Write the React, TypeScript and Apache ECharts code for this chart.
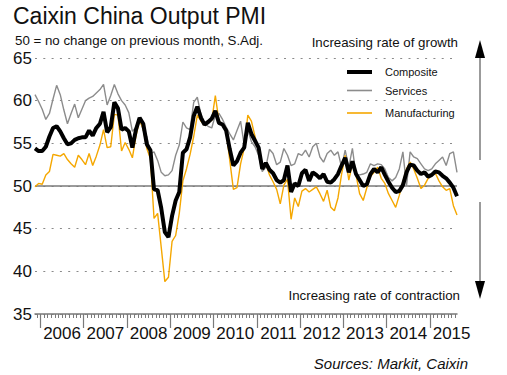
import React, { useEffect, useRef } from "react";
import * as echarts from "echarts";

// Monthly data, Nov 2005 .. Aug 2015
const startMonth = 11; // November 2005
const years = ["2006", "2007", "2008", "2009", "2010", "2011", "2012", "2013", "2014", "2015"];
const yTicks = [35, 40, 45, 50, 55, 60, 65];

const composite = [
  54.4, 54.1,
  54.1, 54.6, 55.8, 56.8, 57.0, 56.4, 55.6, 54.9, 55.0, 55.4, 55.6, 55.7,
  55.7, 56.5, 55.9, 56.8, 57.3, 58.7, 56.3, 56.9, 59.8, 59.1, 56.6, 56.8,
  56.4, 54.5, 56.6, 58.0, 57.3, 54.9, 54.2, 49.6, 49.5, 47.4, 44.6, 44.0,
  46.5, 48.3, 49.3, 53.9, 54.3, 55.7, 58.2, 59.3, 58.0, 57.2, 57.5, 57.9,
  58.8, 57.4, 57.2, 56.5, 54.3, 52.4, 52.9, 53.9, 54.5, 57.4, 56.1, 55.3,
  54.5, 52.0, 52.7, 51.9, 51.5, 50.7, 50.4, 50.7, 52.4, 49.3, 50.3, 50.0,
  51.5, 51.9, 50.6, 51.6, 51.3, 50.9, 51.4, 50.5, 50.4, 50.8, 51.4, 52.4,
  53.3, 51.6, 52.9, 51.4, 50.7, 50.0, 50.2, 51.4, 52.0, 51.6, 52.2, 51.3,
  50.5, 49.8, 49.3, 49.4, 50.1, 51.6, 52.5, 52.4, 51.8, 51.4, 51.6, 51.1,
  51.3, 51.7, 51.6, 51.2, 50.9, 50.4, 49.8, 48.8,
];

const services = [
  60.7, 59.9,
  59.0, 57.8, 58.5, 60.2, 61.8, 60.7, 58.9, 57.3, 58.5, 59.6, 58.0, 59.0,
  60.0, 60.3, 60.5, 60.9, 61.3, 61.9, 59.5, 60.6, 61.9, 60.8, 60.0, 59.5,
  58.6, 56.4, 56.9, 58.0, 56.5, 55.8, 53.8, 54.0, 53.0, 51.6, 51.2, 51.3,
  51.8, 53.6, 54.8, 57.5, 56.8, 56.6, 59.8, 60.4, 58.4, 57.3, 57.0, 56.8,
  58.3, 58.5, 57.8, 56.9, 56.1, 55.4, 56.5, 57.6, 54.8, 56.6, 55.2, 54.6,
  53.6, 51.7, 52.2, 54.3, 53.8, 52.5, 52.8, 54.4, 53.6, 52.4, 52.6, 53.8,
  53.6, 54.2, 53.4, 54.6, 55.0, 53.4, 52.8, 53.8, 54.2, 53.6, 54.0, 52.2,
  54.2, 52.2, 54.4, 51.3, 51.3, 51.4, 51.6, 52.6, 52.4, 52.6, 52.5, 52.0,
  51.0, 50.6, 51.0, 52.0, 54.0, 50.0, 54.0, 53.4, 53.2, 52.6, 52.0, 51.8,
  52.0, 52.6, 53.0, 53.4, 52.4, 53.8, 54.0, 51.6,
];

const manufacturing = [
  49.9, 50.3,
  50.2, 51.3, 51.7, 53.7, 53.6, 53.5, 53.8, 53.1, 52.6, 52.2, 53.6, 53.1,
  52.5, 53.8, 52.4, 53.5, 54.8, 56.6, 54.5, 54.6, 58.4, 58.3, 54.1, 55.1,
  54.3, 53.3, 55.9, 57.7, 56.7, 54.4, 53.2, 46.2, 46.8, 42.8, 38.8, 39.3,
  43.5, 44.2, 46.8, 50.6, 52.0, 53.7, 55.8, 58.3, 57.6, 57.1, 57.4, 57.7,
  60.6, 57.6, 57.2, 56.4, 53.0, 49.6, 49.8, 52.6, 54.4, 58.3, 57.6, 55.8,
  54.0, 52.3, 52.6, 51.3, 50.5, 49.6, 47.9, 50.1, 50.8, 46.1, 48.6, 47.6,
  49.4, 49.7, 49.3, 49.6, 49.9, 49.1, 48.2, 49.5, 47.5, 47.1, 48.6, 51.4,
  53.6, 50.7, 52.6, 51.3, 49.1, 48.3, 49.8, 51.1, 51.6, 52.2, 50.9, 50.3,
  49.1, 48.3, 47.5, 48.9, 50.5, 52.0, 52.8, 52.0, 50.9, 49.7, 50.1, 50.9,
  51.3, 51.5, 50.6, 49.9, 49.5, 49.7, 47.7, 46.6,
];

const FONT = "'Liberation Sans', Arial, Helvetica, sans-serif";

const legendItem = (name: string, centerY: number, thickness: number) => ({
  data: [name],
  icon: "rect",
  left: 347,
  top: centerY - 7,
  padding: 0,
  itemWidth: 25,
  itemHeight: thickness,
  textStyle: {
    fontSize: 11,
    fontFamily: FONT,
    color: "#111",
    padding: [0, 0, 0, 8],
    lineHeight: 14,
  },
});

export default function App() {
  const ref = useRef<HTMLDivElement>(null);

  useEffect(() => {
    if (!ref.current) return;
    const chart = echarts.init(ref.current, null, { renderer: "svg" });
    const n = composite.length;
    const firstJan = (13 - startMonth) % 12; // index of first January
    const yearStart = years.map((_, k) => firstJan + 12 * k - 0.5);
    const yearMid = years.map((_, k) => firstJan + 12 * k + 5.5);
    const monthEdges: number[] = [];
    for (let i = 0; i < n - 1; i++) monthEdges.push(i + 0.5);
    const pairs = (arr: number[]) => arr.map((v, i) => [i, v]);
    const yearOf = (v: number) => {
      const k = Math.round((v - firstJan - 5.5) / 12);
      return years[k] ?? "";
    };

    const option: any = {
      animation: false,
      backgroundColor: "#ffffff",
      grid: { left: 35, right: 50, top: 58, bottom: 61, containLabel: false },
      xAxis: [
        {
          type: "value",
          min: 0,
          max: n - 1,
          axisLine: { show: true, lineStyle: { color: "#7a7a7a", width: 1.5 } },
          axisTick: {
            show: true,
            customValues: yearStart,
            length: 14,
            lineStyle: { color: "#7a7a7a", width: 1.2 },
          },
          axisLabel: {
            show: true,
            customValues: yearMid,
            formatter: (v: number) => yearOf(v),
            fontSize: 17,
            fontFamily: FONT,
            color: "#111",
            margin: 11,
          },
          splitLine: { show: false },
        },
        {
          type: "value",
          min: 0,
          max: n - 1,
          position: "bottom",
          axisLine: { show: false },
          axisTick: {
            show: true,
            customValues: monthEdges,
            length: 4,
            lineStyle: { color: "#7a7a7a", width: 1 },
          },
          axisLabel: { show: false },
          splitLine: { show: false },
        },
      ],
      yAxis: {
        type: "value",
        min: yTicks[0],
        max: yTicks[yTicks.length - 1],
        interval: 5,
        axisLine: { show: false },
        axisTick: { show: false },
        axisLabel: { fontSize: 17, fontFamily: FONT, color: "#111", margin: 3 },
        splitLine: { show: true, lineStyle: { color: "#8a8a8a", width: 1, type: [2, 6.3] } },
      },
      legend: [
        legendItem("Composite", 72, 4),
        legendItem("Services", 90.5, 1.6),
        legendItem("Manufacturing", 113, 1.6),
      ],
      series: [
        {
          name: "Services",
          type: "line",
          data: pairs(services),
          showSymbol: false,
          symbol: "none",
          z: 2,
          lineStyle: { color: "#8c8c8c", width: 1.4 },
          itemStyle: { color: "#8c8c8c" },
          markLine: {
            silent: true,
            symbol: "none",
            label: { show: false },
            lineStyle: { color: "#7a7a7a", width: 1.5, type: "solid" },
            data: [{ yAxis: 50 }],
            z: 1,
          },
        },
        {
          name: "Manufacturing",
          type: "line",
          data: pairs(manufacturing),
          showSymbol: false,
          symbol: "none",
          z: 3,
          lineStyle: { color: "#f5a700", width: 1.4 },
          itemStyle: { color: "#f5a700" },
        },
        {
          name: "Composite",
          type: "line",
          data: pairs(composite),
          showSymbol: false,
          symbol: "none",
          z: 4,
          lineStyle: { color: "#000000", width: 4 },
          itemStyle: { color: "#000000" },
        },
      ],
      graphic: [
        {
          type: "text",
          left: 13,
          top: 4,
          style: { text: "Caixin China Output PMI", font: `23px ${FONT}`, fill: "#111" },
        },
        {
          type: "text",
          left: 15,
          top: 34,
          style: { text: "50 = no change on previous month, S.Adj.", font: `13.3px ${FONT}`, fill: "#111" },
        },
        {
          type: "text",
          right: 49,
          top: 36,
          style: { text: "Increasing rate of growth", font: `13.3px ${FONT}`, fill: "#111" },
        },
        {
          type: "text",
          right: 47,
          top: 289,
          style: { text: "Increasing rate of contraction", font: `13.3px ${FONT}`, fill: "#111" },
        },
        {
          type: "text",
          right: 39,
          top: 356,
          style: { text: "Sources: Markit, Caixin", font: `italic 15px ${FONT}`, fill: "#111" },
        },
        {
          type: "line",
          shape: { x1: 480, y1: 56, x2: 480, y2: 160 },
          style: { stroke: "#7a7a7a", lineWidth: 1.5 },
        },
        {
          type: "polygon",
          shape: { points: [[480, 40], [475, 58], [485, 58]] },
          style: { fill: "#000" },
        },
        {
          type: "line",
          shape: { x1: 480, y1: 202, x2: 480, y2: 283 },
          style: { stroke: "#7a7a7a", lineWidth: 1.5 },
        },
        {
          type: "polygon",
          shape: { points: [[475, 281], [485, 281], [480, 299]] },
          style: { fill: "#000" },
        },
      ],
    };

    chart.setOption(option);
    return () => chart.dispose();
  }, []);

  return (
    <div
      ref={ref}
      style={{ position: "fixed", left: 0, top: 0, width: 507, height: 375, background: "#fff" }}
    />
  );
}
